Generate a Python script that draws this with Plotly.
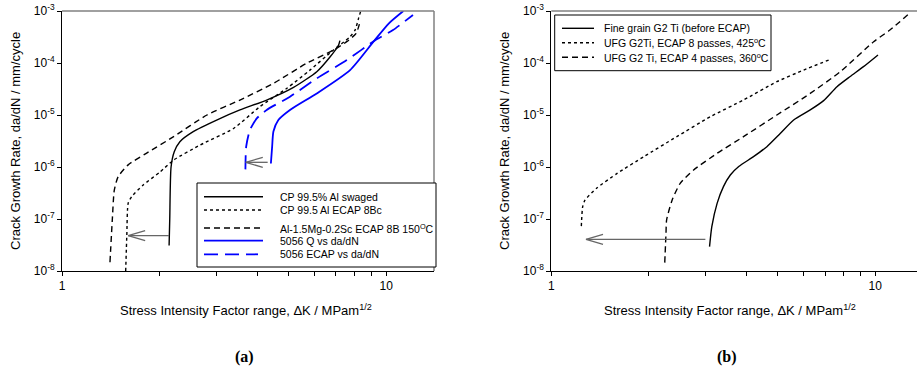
import numpy as np
import plotly.graph_objects as go

# ---------------- data: panel (a) ----------------
a_swaged_x = [2.14, 2.15, 2.17, 2.22, 2.31, 2.54, 3.0, 3.54, 4.28, 5.18, 6.11, 6.72, 7.13, 7.2]
a_swaged_y = [3.1e-8, 1e-7, 1e-6, 1.97e-6, 3.07e-6, 4.8e-6, 8.0e-6, 1.25e-5, 1.94e-5, 3.4e-5, 6.8e-5, 1.32e-4, 2.2e-4, 2.7e-4]

a_ecap8bc_x = [1.572, 1.585, 1.60, 1.64, 1.78, 2.01, 2.21, 2.67, 3.38, 4.08, 4.94, 5.82, 6.88, 7.74, 8.02, 8.22, 8.35]
a_ecap8bc_y = [1e-8, 5e-8, 2e-7, 2.7e-7, 4.5e-7, 8.1e-7, 1.36e-6, 2.65e-6, 5.5e-6, 1.45e-5, 3.26e-5, 7.3e-5, 1.78e-4, 3.2e-4, 4.3e-4, 7.2e-4, 1e-3]

a_sc_x = [1.406, 1.43, 1.45, 1.49, 1.60, 1.82, 2.21, 2.80, 3.54, 4.49, 5.69, 6.88, 7.56, 8.08, 8.27]
a_sc_y = [1.47e-8, 1e-7, 3.6e-7, 6.5e-7, 1.1e-6, 1.83e-6, 3.83e-6, 1e-5, 1.94e-5, 4.06e-5, 9.9e-5, 1.78e-4, 2.57e-4, 3.7e-4, 5.6e-4]

a_5056q_x = [4.41, 4.45, 4.49, 4.65, 5.05, 6.11, 7.74, 9.14, 10.2, 11.3]
a_5056q_y = [1.17e-6, 2.5e-6, 4.8e-6, 8.0e-6, 1.25e-5, 2.6e-5, 7.3e-5, 2.57e-4, 5.8e-4, 1e-3]

a_5056e_x = [3.68, 3.70, 3.80, 3.99, 4.28, 5.05, 6.11, 7.56, 9.35, 10.5, 12.1]
a_5056e_y = [9.0e-7, 2.46e-6, 5.15e-6, 8.6e-6, 1.25e-5, 2.25e-5, 5.07e-5, 1.14e-4, 2.85e-4, 4.3e-4, 8.4e-4]

# arrows (from x, to x, y)
a_arrow1 = [2.14, 1.60, 4.8e-8]
a_arrow2 = [4.31, 3.69, 1.23e-6]

# ---------------- data: panel (b) ----------------
b_fine_x = [3.08, 3.13, 3.25, 3.40, 3.57, 3.79, 4.21, 4.63, 5.09, 5.6, 6.3, 6.93, 7.62, 8.37, 9.2, 10.2]
b_fine_y = [2.94e-8, 7.1e-8, 2e-7, 4.2e-7, 7.0e-7, 1.02e-6, 1.58e-6, 2.46e-6, 4.4e-6, 8.0e-6, 1.25e-5, 1.89e-5, 3.5e-5, 5.5e-5, 8.5e-5, 1.43e-4]

b_ufg8_x = [1.238, 1.25, 1.27, 1.38, 1.60, 1.93, 2.44, 3.10, 3.92, 4.97, 6.01, 7.18]
b_ufg8_y = [7.3e-8, 1.73e-7, 2.3e-7, 3.9e-7, 7.6e-7, 1.58e-6, 3.83e-6, 9.3e-6, 1.94e-5, 4.37e-5, 7.3e-5, 1.14e-4]

b_ufg4_x = [2.24, 2.26, 2.27, 2.36, 2.50, 2.75, 3.25, 3.92, 4.97, 6.3, 7.8, 9.89, 11.1, 12.7]
b_ufg4_y = [1.45e-8, 5.3e-8, 9.6e-8, 2.3e-7, 4.85e-7, 8.75e-7, 1.83e-6, 3.83e-6, 1e-5, 2.6e-5, 6.8e-5, 2.57e-4, 4.3e-4, 8.8e-4]

b_arrow1 = [2.99, 1.28, 4.07e-8]

y_tickvals = [1e-8, 1e-7, 1e-6, 1e-5, 1e-4, 1e-3]
y_ticktext = ["10<sup>-8</sup>", "10<sup>-7</sup>", "10<sup>-6</sup>", "10<sup>-5</sup>", "10<sup>-4</sup>", "10<sup>-3</sup>"]
x_tickvals = [1, 10]
x_ticktext = ["1", "10"]
x_minor_tickvals = [2, 3, 4, 5, 6, 7, 8, 9]

x_title = "Stress Intensity Factor range, ΔK / MPam<sup>1/2</sup>"
y_title = "Crack Growth Rate, da/dN / mm/cycle"
panel_labels = ["(a)", "(b)"]

legend_a_labels = ["CP 99.5% Al swaged", "CP 99.5 Al ECAP 8Bc", "Al-1.5Mg-0.2Sc ECAP 8B 150<sup>O</sup>C",
                   "5056 Q vs da/dN", "5056 ECAP vs da/dN"]
legend_b_labels = ["Fine grain G2 Ti (before ECAP)", "UFG G2Ti, ECAP 8 passes, 425<sup>o</sup>C",
                   "UFG G2 Ti, ECAP 4 passes, 360<sup>o</sup>C"]

FONT = "Liberation Sans, Arial, sans-serif"
BLUE = "#0000ff"
DASH = "6px,4px"
LDASH = "14px,7px"

styles_a = [("black", "solid", 1.4), ("black", "dot", 1.4), ("black", DASH, 1.4),
            (BLUE, "solid", 1.8), (BLUE, LDASH, 1.8)]
styles_b = [("black", "solid", 1.4), ("black", "dot", 1.4), ("black", DASH, 1.4)]

fig = go.Figure()

def add(x, y, name, style, xa, ya):
    color, dash, width = style
    fig.add_trace(go.Scatter(x=x, y=y, mode="lines", name=name, xaxis=xa, yaxis=ya, showlegend=False,
                             line=dict(color=color, dash=dash, width=width, shape="spline", smoothing=0.6)))

series_a = [(a_swaged_x, a_swaged_y), (a_ecap8bc_x, a_ecap8bc_y), (a_sc_x, a_sc_y),
            (a_5056q_x, a_5056q_y), (a_5056e_x, a_5056e_y)]
series_b = [(b_fine_x, b_fine_y), (b_ufg8_x, b_ufg8_y), (b_ufg4_x, b_ufg4_y)]
for (x, y), name, st in zip(series_a, legend_a_labels, styles_a):
    add(x, y, name, st, "x", "y")
for (x, y), name, st in zip(series_b, legend_b_labels, styles_b):
    add(x, y, name, st, "x2", "y2")

# arrows: shaft plus open V head, derived from arrow data
def arrow(a, xa, ya):
    x0, x1, yv = a
    fx = 10 ** (17 / 324)   # ~17 px along x
    fy = 10 ** (5 / 52)     # ~5 px along y
    xs = [x0, x1, None, x1 * fx, x1, x1 * fx]
    ys = [yv, yv, None, yv * fy, yv, yv / fy]
    fig.add_trace(go.Scatter(x=xs, y=ys, mode="lines", xaxis=xa, yaxis=ya, showlegend=False,
                             line=dict(color="#666666", width=1.3), hoverinfo="skip"))

arrow(a_arrow1, "x", "y")
arrow(a_arrow2, "x", "y")
arrow(b_arrow1, "x2", "y2")

W, H = 917, 368
def px(v): return v / W
def py(v): return (H - v) / H

ax_common = dict(type="log", showgrid=False, zeroline=False, showline=True, linecolor="black",
                 linewidth=1, ticks="outside", ticklen=4, tickcolor="black", automargin=False,
                 ticklabeloverflow="allow",
                 tickfont=dict(family=FONT, size=12, color="black"))
xcommon = dict(ax_common, tickmode="array", tickvals=x_tickvals, ticktext=x_ticktext,
               minor=dict(tickmode="array", tickvals=x_minor_tickvals, ticks="outside", ticklen=4,
                          tickcolor="black", showgrid=False))
ycommon = dict(ax_common, tickmode="array", tickvals=y_tickvals, ticktext=y_ticktext, range=[-8, -3])

shapes = [
    dict(type="line", xref="paper", yref="paper", x0=px(62), x1=px(434), y0=py(11), y1=py(11),
         line=dict(color="#808080", width=1.5)),
    dict(type="line", xref="paper", yref="paper", x0=px(434), x1=px(434), y0=py(11), y1=py(271),
         line=dict(color="#808080", width=1.5)),
    dict(type="line", xref="paper", yref="paper", x0=px(551.3), x1=1.0, y0=py(11), y1=py(11),
         line=dict(color="#808080", width=1.5)),
]
annotations = []

def txt(text, x, y, size, angle=0, family=FONT, xanchor="center"):
    annotations.append(dict(text=text, xref="paper", yref="paper", x=px(x), y=py(y), showarrow=False,
                            xanchor=xanchor, yanchor="middle", textangle=angle,
                            font=dict(family=family, size=size, color="black")))

# manual legends (box, sample line, label)
def legend(box, rows, sample_x, text_x, labels, styles, sample_ends):
    x0, y0, x1, y1 = box
    shapes.append(dict(type="rect", xref="paper", yref="paper", x0=px(x0), x1=px(x1), y0=py(y1), y1=py(y0),
                       fillcolor="white", line=dict(color="black", width=1), layer="above"))
    for ry, lab, st, se in zip(rows, labels, styles, sample_ends):
        color, dash, width = st
        shapes.append(dict(type="line", xref="paper", yref="paper", x0=px(sample_x), x1=px(se),
                           y0=py(ry), y1=py(ry), line=dict(color=color, dash=dash, width=width), layer="above"))
        txt(lab, text_x, ry, 10.5, xanchor="left")

legend((197, 183, 436, 267), [196.7, 210, 228, 240.7, 254.3], 204, 278,
       legend_a_labels, styles_a, [263, 263, 263, 263, 258])
legend((554.7, 15, 771, 70.7), [28.3, 42.7, 57.3], 562, 602,
       legend_b_labels, styles_b, [594, 594, 594])

txt(x_title, 246, 310, 13)
txt(x_title, 730, 310, 13)
txt(y_title, 15, 141, 13, angle=-90)
txt(y_title, 504, 141, 13, angle=-90)
txt("<b>%s</b>" % panel_labels[0], 244, 357, 16, family="Liberation Serif, Times New Roman, serif")
txt("<b>%s</b>" % panel_labels[1], 727, 357, 16, family="Liberation Serif, Times New Roman, serif")

fig.update_layout(
    width=W, height=H, margin=dict(l=0, r=0, t=0, b=0, autoexpand=False),
    plot_bgcolor="white", paper_bgcolor="white", showlegend=False,
    font=dict(family=FONT, color="black"),
    xaxis=dict(xcommon, domain=[px(62), px(434)], range=[0, np.log10(14.05)], anchor="y"),
    yaxis=dict(ycommon, domain=[py(271), py(11)], anchor="x"),
    xaxis2=dict(xcommon, domain=[px(551.3), 1.0], range=[0, 1.129], anchor="y2"),
    yaxis2=dict(ycommon, domain=[py(271), py(11)], anchor="x2"),
    shapes=shapes,
    annotations=annotations,
)

# remove the browser's default 8px body margin so the figure fills the window
fig.write_html("out.html", config={"displayModeBar": False},
               post_script="document.body.style.margin='0';document.body.style.overflow='hidden';")
